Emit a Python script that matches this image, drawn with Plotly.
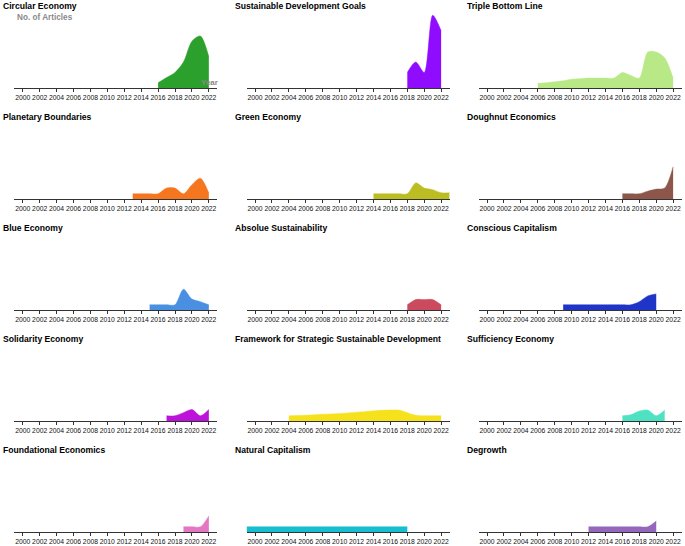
import plotly.graph_objects as go

# topics in panel order (5 rows x 3 columns)
topics = [
    "Circular Economy", "Sustainable Development Goals", "Triple Bottom Line",
    "Planetary Boundaries", "Green Economy", "Doughnut Economics",
    "Blue Economy", "Absolue Sustainability", "Conscious Capitalism",
    "Solidarity Economy", "Framework for Strategic Sustainable Development", "Sufficiency Economy",
    "Foundational Economics", "Natural Capitalism", "Degrowth",
]
first_year = [2016, 2018, 2006, 2013, 2014, 2016, 2015, 2018, 2009, 2017, 2004, 2016, 2019, 1999, 2012]

circular = [1, 2, 3, 5, 9, 10, 6]
sdg = [3, 5, 3, 14, 11]
triple = [0.9, 1.0, 1.2, 1.4, 1.7, 1.8, 1.9, 1.9, 1.9, 1.9, 3.0, 2.4, 1.9, 6.9, 6.9, 5.8, 1.9]
planetary = [1, 1, 1, 1, 2.1, 2.1, 1, 2.75, 4, 1.15]
green = [1, 1, 1, 1, 1, 3.1, 2.1, 1.8, 1.2, 1.2]
doughnut = [1, 1, 1, 1.5, 1.9, 2.1, 6.2]
blue = [1, 1, 1, 1, 4.0, 2.1, 1.6, 1]
absolute = [1, 2, 2, 2, 1]
conscious = [1, 1, 1, 1, 1, 1, 1, 1, 1, 1.6, 2.7, 3.1]
solidarity = [1, 1, 1.6, 2.2, 1, 2.2]
framework = [1, 1.05, 1.1, 1.2, 1.3, 1.35, 1.45, 1.55, 1.7, 1.8, 1.95, 2.05, 2.1, 2.1, 1.6, 1.1, 1, 1, 1]
sufficiency = [1, 1.2, 1.9, 2.1, 1, 2.1]
foundational = [1, 1, 1, 3.1]
natural = [1] * 20
degrowth = [1, 1, 1, 1, 1, 1, 1, 1, 2.1]

articles = [circular, sdg, triple, planetary, green, doughnut, blue, absolute,
            conscious, solidarity, framework, sufficiency, foundational, natural, degrowth]

colors = ["#2ca02c", "#8f0cff", "#b8e986", "#f5761f", "#bcbd22", "#8c564b",
          "#4a90e2", "#cc4a5e", "#1f35c8", "#bd12d9", "#f5e11c", "#4ee2c2",
          "#e377c2", "#17becf", "#9467bd"]

tick_years = list(range(2000, 2023, 2))

W, H = 685, 546
col_left = [14.3, 246.6, 478.6]
panel_w = 203
baseline0, row_step, panel_h = 88, 111, 78

fig = go.Figure()
for i, (name, start, vals) in enumerate(zip(topics, first_year, articles)):
    r, c = divmod(i, 3)
    n = i + 1
    years = list(range(start, start + len(vals)))
    fig.add_trace(go.Scatter(
        x=years, y=vals, mode="lines", fill="tozeroy",
        line=dict(color=colors[i], width=0.5, shape="spline", smoothing=0.8),
        fillcolor=colors[i], showlegend=False, hoverinfo="x+y",
        xaxis=f"x{n}", yaxis=f"y{n}",
    ))
    x0 = col_left[c]
    base = baseline0 + row_step * r
    suffix = "" if n == 1 else str(n)
    fig.layout[f"xaxis{suffix}"] = dict(
        domain=[x0 / W, (x0 + panel_w) / W], anchor=f"y{n}",
        range=[1999, 2023], tickvals=tick_years, tickangle=0,
        showline=True, linecolor="#333", linewidth=1, showgrid=False, zeroline=False,
        ticks="outside", ticklen=3, tickcolor="#333",
        tickfont=dict(size=6.8, color="#111", family="Liberation Sans, Arial"),
        fixedrange=True,
    )
    fig.layout[f"yaxis{suffix}"] = dict(
        domain=[1 - base / H, 1 - (base - panel_h) / H], anchor=f"x{n}",
        range=[0, 15], visible=False, fixedrange=True,
    )
    fig.add_annotation(
        text=f"<b>{name}</b>", xref="paper", yref="paper",
        x=(x0 - 13.5) / W, y=1 - (base - 81.7) / H,
        xanchor="left", yanchor="middle", showarrow=False,
        font=dict(size=8.6, color="#000", family="Liberation Sans, Arial"),
    )

# axis labels on the first panel
fig.add_annotation(
    text="<b>No. of Articles</b>", xref="paper", yref="paper",
    x=14.5 / W, y=1 - 17.7 / H, xanchor="left", yanchor="middle",
    showarrow=False, font=dict(size=8.2, color="#8a8a8a", family="Liberation Sans, Arial"),
)
fig.add_annotation(
    text="<b>Year</b>", xref="paper", yref="paper",
    x=220 / W, y=1 - 82 / H, xanchor="right", yanchor="middle",
    showarrow=False, font=dict(size=8, color="#8a8a8a", family="Liberation Sans, Arial"),
)

fig.update_layout(
    width=W, height=H, margin=dict(l=0, r=0, t=0, b=0),
    paper_bgcolor="white", plot_bgcolor="white",
    font=dict(family="Liberation Sans, Arial"),
)
# drop the browser's default body margin so the figure fills the window
fig.write_html("out.html", config={"displayModeBar": False},
               post_script="document.body.style.margin='0';")
